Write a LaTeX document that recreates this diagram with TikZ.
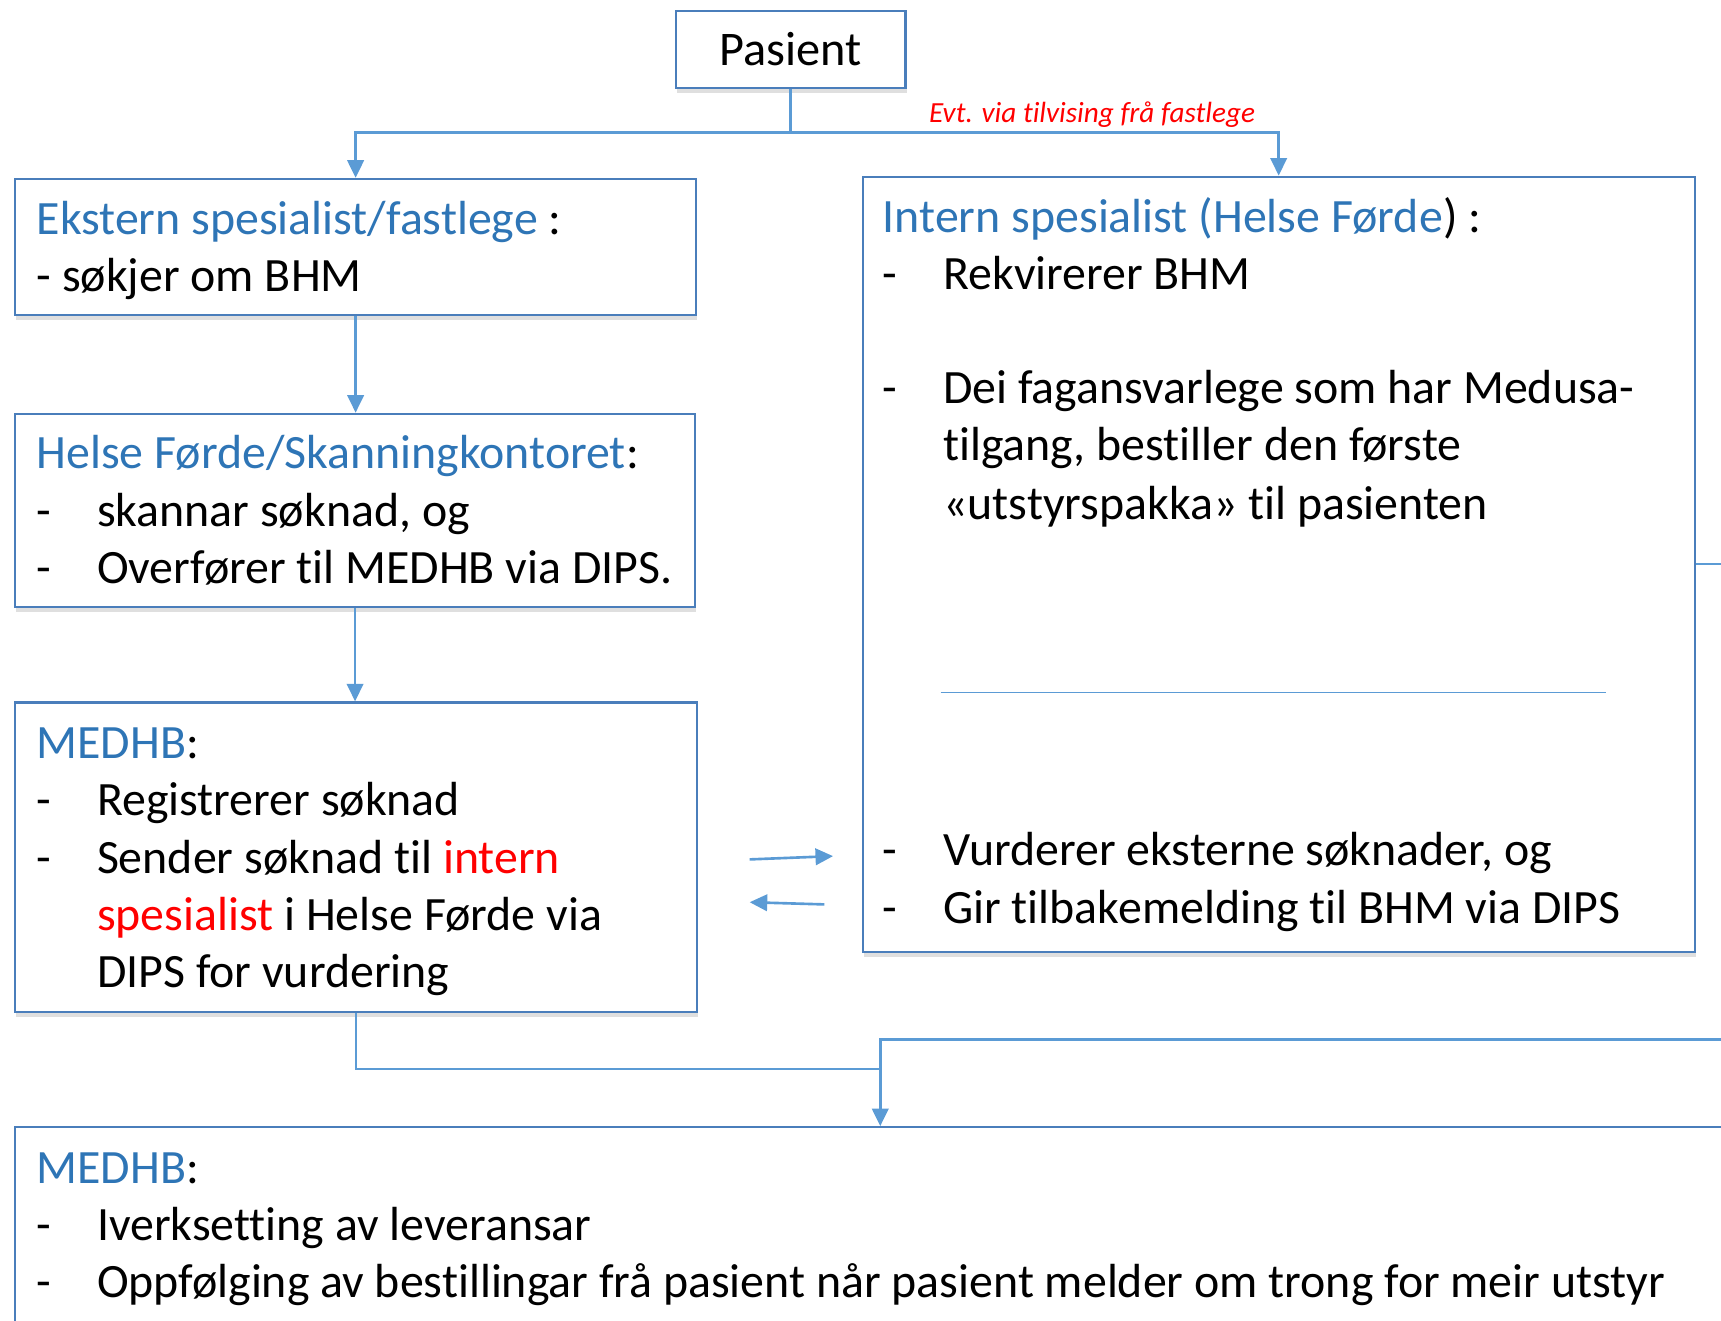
\documentclass[tikz,border=0pt]{standalone}
\usepackage{fontspec}
\setmainfont[RawFeature={-liga;-clig;-calt;-dlig}]{Carlito}
\usetikzlibrary{arrows.meta,shadows,fit}
\definecolor{boxblue}{HTML}{4A7EBB}
\definecolor{linkblue}{HTML}{5B9BD5}
\definecolor{titleblue}{HTML}{2E75B6}
\definecolor{redtxt}{HTML}{FF0000}
\newcommand{\dsh}{\makebox[27.5pt][l]{-}}
\begin{document}
\begin{tikzpicture}[x=0.5pt,y=-0.5pt,
  box/.style={draw=boxblue, line width=1pt, fill=white, inner sep=0pt,
    drop shadow={shadow xshift=0.5pt, shadow yshift=-2.5pt, opacity=0.25}},
  txt/.style={anchor=base west, inner sep=0pt, font=\fontsize{21.8}{26}\selectfont},
  conn/.style={draw=linkblue, line width=1.2pt, -{Triangle[width=7.5pt,length=8pt]}},
  plain/.style={draw=linkblue, line width=1.2pt},
  sepline/.style={draw=linkblue, line width=0.6pt}]
\useasboundingbox (0,0) rectangle (1568,1203);
\clip (0,0) rectangle (1568,1203);

% boxes
\node[box, fit={(616,10) (825,80)}] (pasient) {};
\node[box, fit={(14,163) (634,287)}] (ekstern) {};
\node[box, fit={(14,377) (633,553)}] (helse) {};
\node[box, fit={(14,640) (635,922)}] (medhb) {};
\node[box, fit={(786,161) (1544,867)}] (intern) {};
\node[box, fit={(14,1027) (1640,1260)}] (bottom) {};

% texts
\node[txt, anchor=base] (pasientT) at (720.5,60) {\fontsize{22}{26}\selectfont Pasient};

\node[txt] (ek1) at (33,214) {\textcolor{titleblue}{Ekstern spesialist/fastlege} :};
\node[txt] (ek2) at (33,266) {- søkjer om BHM};

\node[txt] (hf1) at (33,427) {\textcolor{titleblue}{Helse Førde/Skanningkontoret}:};
\node[txt] (hf2) at (33,480) {\dsh skannar søknad, og};
\node[txt] (hf3) at (33,532) {\dsh Overfører til MEDHB via DIPS.};

\node[txt] (md1) at (33,691) {\textcolor{titleblue}{MEDHB}:};
\node[txt] (md2) at (33,743) {\dsh Registrerer søknad};
\node[txt] (md3) at (33,796) {\dsh Sender søknad til \textcolor{redtxt}{intern}};
\node[txt] (md4) at (88,848) {\textcolor{redtxt}{spesialist} i Helse Førde via};
\node[txt] (md5) at (88,900) {DIPS for vurdering};

\node[txt] (in1) at (804,212) {\textcolor{titleblue}{Intern spesialist (Helse Førde}) :};
\node[txt] (in2) at (804,264) {\dsh Rekvirerer BHM};
\node[txt] (in3) at (804,368) {\dsh Dei fagansvarlege som har Medusa-};
\node[txt] (in4) at (859,420) {tilgang, bestiller den første};
\node[txt] (in5) at (859,473) {«utstyrspakka» til pasienten};
\node[txt] (in6) at (804,789) {\dsh Vurderer eksterne søknader, og};
\node[txt] (in7) at (804,841) {\dsh Gir tilbakemelding til BHM via DIPS};

\node[txt] (bt1) at (33,1078) {\textcolor{titleblue}{MEDHB}:};
\node[txt] (bt2) at (33,1130) {\dsh Iverksetting av leveransar};
\node[txt] (bt3) at (33,1182) {\dsh Oppfølging av bestillingar frå pasient når pasient melder om trong for meir utstyr};

\draw[sepline] (857,631) -- (1463,631);

% connectors
\coordinate (split) at (720.5,121);
\draw[plain] (pasient.south) -- (split);
\draw[conn] (split) -| (ekstern.north);
\draw[conn] (split) -| (intern.north);
\node[anchor=base, inner sep=0pt, font=\fontsize{13.3}{16}\selectfont\itshape, text=redtxt] (evt) at (995,112) {Evt. via tilvising frå fastlege};

\draw[conn] (ekstern.south) -- (helse.north -| ekstern.south);
\draw[conn] (helse.south) -- (medhb.north -| helse.south);

\coordinate (join) at (802,974);
\coordinate (rightout) at (1600,947);
\draw[plain] (intern.east) -| (rightout) -- (802,947) -- (join);
\draw[conn] (medhb.south) |- (join) -- (join |- bottom.north);

\coordinate (a1s) at (683,783);
\coordinate (a1e) at (759,780);
\coordinate (a2s) at (751,824);
\coordinate (a2e) at (683,822);
\draw[conn] (a1s) -- (a1e);
\draw[conn] (a2s) -- (a2e);
\end{tikzpicture}
\end{document}
